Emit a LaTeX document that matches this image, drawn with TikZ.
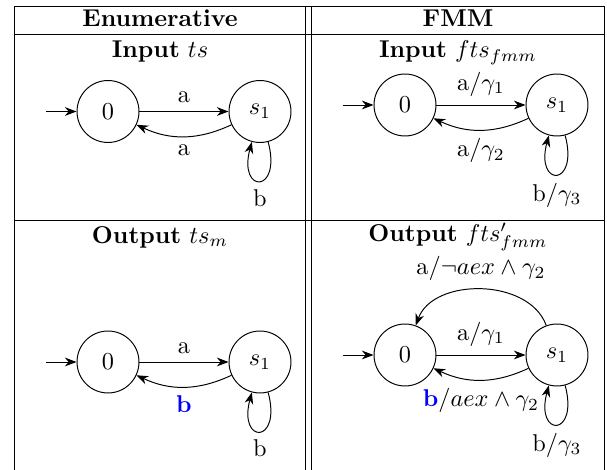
\documentclass[tikz,border=0pt]{standalone}
\usepackage{xcolor}
\usepackage{amsmath, amssymb}
\usepackage{tikz}
\usetikzlibrary{arrows.meta, calc, positioning}

\tikzset{
  statenode/.style={circle, draw, minimum size=25.5pt, inner sep=0pt},
  trans/.style={-{Stealth}},
  selfloop/.style={out=-75, in=-105, looseness=8.5},
}

\begin{document}
\begin{tikzpicture}[x=0.4115pt, y=0.4115pt]
\useasboundingbox (0,0) rectangle (607,470);

% Table
\draw (14,464) -- (604,464);
\draw (14,436) -- (604,436);
\draw (14,250) -- (604,250);
\draw (14,0) -- (14,464);
\draw (305.5,0) -- (305.5,464);
\draw (311.3,0) -- (311.3,464);
\draw (604,0) -- (604,464);

\node (hEnum) at (160,452) {\textbf{Enumerative}};
\node (hFmm) at (458,452) {\textbf{FMM}};
\node (tsIn) at (160,418) {\textbf{Input} $ts$};
\node (ftsIn) at (458,417) {\textbf{Input} $fts_{fmm}$};
\node (tsOut) at (160,233) {\textbf{Output} $ts_m$};
\node (ftsOut) at (458,233) {\textbf{Output} $fts'_{fmm}$};

% Enumerative, input
\begin{scope}[shift={(108,358.5)}]
\node[statenode] (ti0) at (0,0) {$0$};
\node[statenode] (ti1) at (152,0) {$s_1$};
\coordinate (tiStart) at (-62,0);
\draw[trans] (tiStart) -- (ti0);
\draw[trans] (ti0) -- node[above] {a} (ti1);
\draw[trans] (ti1) to[bend left=25] node[below] {a} (ti0);
\draw[trans] (ti1) to[selfloop] node[below] {b} (ti1);
\end{scope}

% FMM, input
\begin{scope}[shift={(405,365)}]
\node[statenode] (fi0) at (0,0) {$0$};
\node[statenode] (fi1) at (152,0) {$s_1$};
\coordinate (fiStart) at (-62,0);
\draw[trans] (fiStart) -- (fi0);
\draw[trans] (fi0) -- node[above] {a/$\gamma_1$} (fi1);
\draw[trans] (fi1) to[bend left=25] node[below] {a/$\gamma_2$} (fi0);
\draw[trans] (fi1) to[selfloop] node[below] {b/$\gamma_3$} (fi1);
\end{scope}

% Enumerative, output
\begin{scope}[shift={(108,108)}]
\node[statenode] (to0) at (0,0) {$0$};
\node[statenode] (to1) at (152,0) {$s_1$};
\coordinate (toStart) at (-62,0);
\draw[trans] (toStart) -- (to0);
\draw[trans] (to0) -- node[above] {a} (to1);
\draw[trans] (to1) to[bend left=25] node[below] {\color{blue}\textbf{b}} (to0);
\draw[trans] (to1) to[selfloop] node[below] {b} (to1);
\end{scope}

% FMM, output
\begin{scope}[shift={(405,115)}]
\node[statenode] (fo0) at (0,0) {$0$};
\node[statenode] (fo1) at (152,0) {$s_1$};
\coordinate (foStart) at (-62,0);
\draw[trans] (foStart) -- (fo0);
\draw[trans] (fo0) -- node[above] {a/$\gamma_1$} (fo1);
\draw[trans] (fo1) to[out=110, in=70] node[above] {a/$\neg aex \wedge \gamma_2$} (fo0);
\draw[trans] (fo1) to[bend left=25] node[below] {{\color{blue}\textbf{b}}/$aex \wedge \gamma_2$} (fo0);
\draw[trans] (fo1) to[selfloop] node[below] {b/$\gamma_3$} (fo1);
\end{scope}

\end{tikzpicture}
\end{document}
